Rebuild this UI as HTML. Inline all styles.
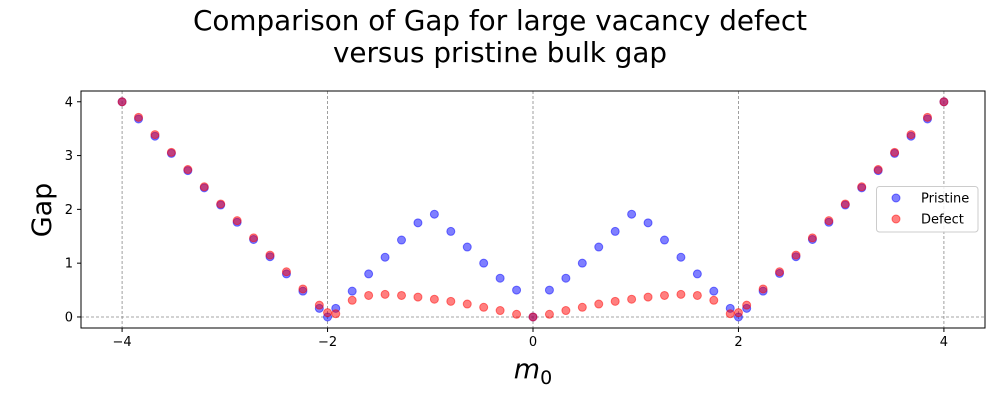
<!DOCTYPE html>
<html><head><meta charset="utf-8">
<style>
html,body{margin:0;padding:0;background:#fff;}
svg{display:block;font-family:"DejaVu Sans","Liberation Sans",sans-serif;}
</style></head>
<body>
<svg id="chart" width="1000" height="400" viewBox="0 0 1000 400"></svg>
<script>
const xVals = [-4,-3.84,-3.68,-3.52,-3.36,-3.2,-3.04,-2.88,-2.72,-2.56,-2.4,-2.24,-2.08,-2,-1.92,-1.76,-1.6,-1.44,-1.28,-1.12,-0.96,-0.8,-0.64,-0.48,-0.32,-0.16,0,0.16,0.32,0.48,0.64,0.8,0.96,1.12,1.28,1.44,1.6,1.76,1.92,2,2.08,2.24,2.4,2.56,2.72,2.88,3.04,3.2,3.36,3.52,3.68,3.84,4];
const pristine = [4.0,3.68,3.36,3.04,2.72,2.40,2.08,1.76,1.44,1.12,0.80,0.48,0.16,0,0.16,0.48,0.80,1.11,1.43,1.75,1.91,1.59,1.30,1.00,0.72,0.50,0,0.50,0.72,1.00,1.30,1.59,1.91,1.75,1.43,1.11,0.80,0.48,0.16,0,0.16,0.48,0.81,1.12,1.44,1.76,2.08,2.40,2.72,3.04,3.36,3.68,4.0];
const defect = [4.0,3.71,3.39,3.06,2.74,2.42,2.10,1.79,1.47,1.15,0.84,0.52,0.22,0.08,0.06,0.31,0.40,0.42,0.40,0.37,0.33,0.29,0.24,0.18,0.12,0.05,0,0.05,0.12,0.18,0.24,0.29,0.33,0.37,0.40,0.42,0.40,0.31,0.06,0.08,0.22,0.52,0.84,1.15,1.47,1.79,2.10,2.42,2.74,3.06,3.39,3.71,4.0];
const xTicks = [-4,-2,0,2,4];
const yTicks = [0,1,2,3,4];
const xTickLabels = ["\u22124","\u22122","0","2","4"];
const yTickLabels = ["0","1","2","3","4"];

const NS="http://www.w3.org/2000/svg";
const svg=document.getElementById('chart');
const L=81,R=985,T=91,B=328;
const xMin=-4.4,xMax=4.4,yMin=-0.205,yMax=4.2;
const sx=v=>L+(v-xMin)/(xMax-xMin)*(R-L);
const sy=v=>B-(v-yMin)/(yMax-yMin)*(B-T);
function mk(tag,attrs,parent){const e=document.createElementNS(NS,tag);for(const k in attrs)e.setAttribute(k,attrs[k]);(parent||svg).appendChild(e);return e;}

const t1=mk('text',{x:500,y:30,'text-anchor':'middle','font-size':27.8});
t1.textContent='Comparison of Gap for large vacancy defect';


const t2=mk('text',{x:500,y:62,'text-anchor':'middle','font-size':27.8});
t2.textContent='versus pristine bulk gap';



xTicks.forEach(v=>{const g=mk('line',{x1:sx(v),x2:sx(v),y1:T,y2:B,stroke:'#888','stroke-width':0.8,'stroke-dasharray':'3,2'});

});
const hz=mk('line',{x1:L,x2:R,y1:sy(0),y2:sy(0),stroke:'#888','stroke-width':0.8,'stroke-dasharray':'3,2'});



const gp=mk('g',{});


xVals.forEach((x,i)=>{const c=mk('circle',{cx:sx(x),cy:sy(pristine[i]),r:4,fill:'rgba(0,0,255,0.5)',stroke:'rgba(0,0,255,0.5)','stroke-width':1},gp);

});
const gd=mk('g',{});


xVals.forEach((x,i)=>{const c=mk('circle',{cx:sx(x),cy:sy(defect[i]),r:4,fill:'rgba(255,0,0,0.5)',stroke:'rgba(255,0,0,0.5)','stroke-width':1},gd);

});

const fr=mk('rect',{x:L,y:T,width:R-L,height:B-T,fill:'none',stroke:'#000','stroke-width':1});



xTicks.forEach((v,i)=>{mk('line',{x1:sx(v),x2:sx(v),y1:B,y2:B+4,stroke:'#000'});
const tx=mk('text',{x:sx(v),y:B+18,'text-anchor':'middle','font-size':13});
tx.textContent=xTickLabels[i];

});
yTicks.forEach((v,i)=>{mk('line',{x1:L-4,x2:L,y1:sy(v),y2:sy(v),stroke:'#000'});
const ty=mk('text',{x:L-8,y:sy(v)+4.5,'text-anchor':'end','font-size':13});
ty.textContent=yTickLabels[i];

});

const xl=mk('text',{x:533,y:378,'text-anchor':'middle','font-size':27,'font-style':'italic'});
xl.innerHTML='m<tspan dy="6" font-size="19" font-style="normal">0</tspan>';


const yl=mk('text',{x:0,y:0,'text-anchor':'middle','font-size':27,transform:'translate(51,210) rotate(-90)'});
yl.textContent='Gap';



const lg=mk('g',{});


mk('rect',{x:876.5,y:186.5,width:101.5,height:45.5,rx:3,fill:'rgba(255,255,255,0.8)',stroke:'#ccc'},lg);
const lp=mk('circle',{cx:896,cy:198,r:4,fill:'rgba(0,0,255,0.5)',stroke:'rgba(0,0,255,0.5)'},lg);


const lpt=mk('text',{x:921,y:202.5,'font-size':13},lg);
lpt.textContent='Pristine';


const ld=mk('circle',{cx:896,cy:219,r:4,fill:'rgba(255,0,0,0.5)',stroke:'rgba(255,0,0,0.5)'},lg);


const ldt=mk('text',{x:921,y:223.5,'font-size':13},lg);
ldt.textContent='Defect';


</script>
</body></html>
